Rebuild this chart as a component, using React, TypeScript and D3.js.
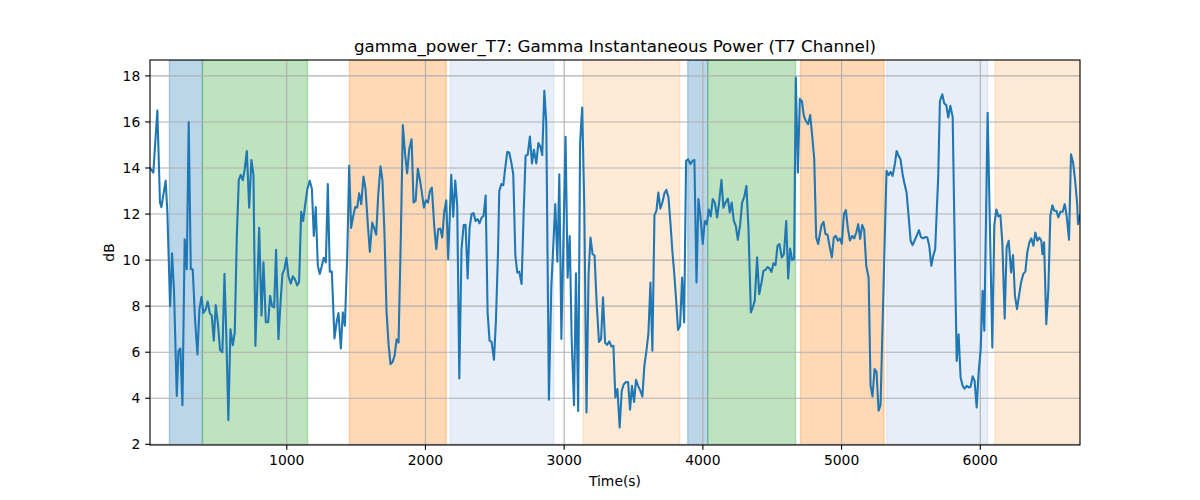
import * as d3 from "d3";

// ── Data ─────────────────────────────────────────────────────────────────────
const TIMES: number[] = [
  14, 38, 67, 86, 96, 127, 139, 159, 173, 187, 207, 219, 233, 248, 264, 279, 293, 308, 322, 339,
  356, 370, 385, 399, 416, 430, 445, 459, 474, 488, 505, 519, 536, 551, 565, 579, 594, 611, 625, 640,
  654, 668, 683, 697, 712, 729, 745, 760, 774, 801, 818, 832, 849, 866, 880, 894, 909, 923, 940, 955,
  969, 983, 998, 1012, 1029, 1044, 1060, 1075, 1089, 1104, 1118, 1135, 1149, 1166, 1181,
  1195, 1209, 1224, 1238, 1253, 1267, 1282, 1296, 1310, 1325, 1344, 1359, 1373, 1390, 1404, 1419, 1436, 1450, 1464, 1479,
  1493, 1508, 1522, 1537, 1553, 1568, 1585, 1599, 1616, 1630, 1645, 1659, 1676, 1690, 1705, 1719, 1734, 1748, 1763, 1777,
  1792, 1806, 1823, 1837, 1852, 1868, 1883, 1900, 1914, 1929, 1945, 1960, 1974, 1989, 2003, 2018, 2032, 2046, 2063, 2078,
  2092, 2107, 2121, 2135, 2150, 2164, 2186, 2200, 2215, 2229, 2244,
  2260, 2275, 2289, 2304, 2318, 2333, 2347, 2361, 2376, 2390, 2405, 2419, 2434, 2448, 2462, 2477, 2494, 2508, 2523, 2532,
  2547, 2561, 2575, 2590, 2604, 2619, 2633, 2648, 2662, 2676, 2693, 2708, 2722, 2737, 2753, 2768, 2782, 2799, 2814, 2828,
  2842, 2857, 2871, 2890, 2907, 2936, 2951, 2965, 2980, 3010, 3025, 3040, 3054, 3071, 3085, 3101, 3115, 3130, 3145, 3161,
  3176, 3190, 3205, 3219, 3234, 3251, 3266, 3280, 3295, 3309, 3326, 3340, 3355, 3369,
  3384, 3400, 3415, 3429, 3444, 3461, 3475, 3489, 3504, 3518, 3533, 3550, 3564, 3578, 3593, 3607, 3622, 3636, 3651, 3665,
  3679, 3694, 3708, 3723, 3737, 3752, 3766, 3780, 3795, 3809, 3821, 3836, 3850, 3865, 3879, 3893, 3910, 3925, 3939, 3954,
  3968, 3982, 3999, 4014, 4028, 4043, 4057, 4071, 4086, 4103, 4117, 4134, 4148, 4163, 4180, 4194, 4208, 4223, 4237, 4252,
  4269, 4283, 4297, 4314, 4329, 4346, 4360, 4374, 4391, 4406, 4423, 4437, 4451, 4466, 4480, 4495, 4509, 4524, 4538, 4552,
  4569, 4584, 4601, 4615, 4629, 4644, 4658, 4670, 4685, 4699, 4714, 4728, 4742, 4759, 4774, 4788, 4803, 4817, 4831, 4855,
  4870, 4884, 4899, 4913, 4930, 4944, 4959, 4973, 4988, 5002, 5017, 5031, 5045, 5060, 5077, 5091, 5106, 5120, 5134, 5149,
  5163, 5178, 5195, 5209, 5223, 5238, 5252, 5267, 5281, 5296, 5310, 5324, 5339, 5353, 5368, 5385, 5397, 5411, 5425, 5440,
  5454, 5469, 5483, 5498, 5512, 5526, 5541, 5558, 5572, 5587, 5603, 5618, 5632, 5647, 5661, 5675,
  5697, 5709, 5726, 5740, 5755, 5769, 5784, 5801, 5815, 5830, 5844, 5858, 5873, 5887, 5902, 5916, 5930, 5945, 5959, 5974,
  5988, 6003, 6017, 6029, 6053, 6087, 6101, 6116, 6130, 6145, 6159, 6176, 6190, 6205, 6222, 6236, 6250, 6265, 6279, 6294,
  6310, 6325, 6339, 6354, 6368, 6383, 6397, 6412, 6426, 6440, 6448, 6460, 6476, 6491, 6505, 6520, 6534, 6549, 6563, 6577,
  6594, 6609, 6623, 6640, 6654, 6669, 6683, 6698, 6705, 6719,
];

const POWER_DB: number[] = [
  14.0, 13.8, 16.5, 12.5, 12.3, 13.45, 12.1, 8.0, 10.3, 8.7, 4.1, 6.06, 6.16, 3.7, 10.9, 9.6, 16.0, 9.6, 9.6, 7.4,
  5.9, 7.85, 8.4, 7.7, 7.87, 8.2, 7.7, 7.6, 6.5, 8.05, 7.15, 6.1, 6.0, 9.4, 6.56, 3.05, 7.0, 6.3, 6.85, 11.05,
  13.47, 13.7, 13.47, 13.95, 14.74, 12.28, 14.35, 13.7, 6.27, 11.4, 7.6, 9.9, 7.3, 7.3, 8.45, 8.0, 7.95, 10.45, 6.56, 8.15,
  9.4, 9.6, 10.1, 9.3, 8.98, 9.3, 9.15, 8.9, 9.05, 12.1, 11.7, 12.5, 13.1, 13.45, 13.1,
  11.05, 12.3, 9.75, 9.4, 9.75, 10.1, 9.9, 13.3, 9.5, 9.5, 6.6, 7.3, 7.7, 6.16, 7.73, 7.15, 10.2, 14.1, 11.4, 11.9,
  12.3, 12.28, 12.9, 12.43, 13.63, 13.08, 11.5, 10.36, 11.63, 11.4, 11.1, 12.8, 14.07, 13.45, 11.05, 7.8, 6.35, 5.48, 5.58, 5.84,
  6.56, 6.42, 11.2, 15.86, 14.67, 13.77, 14.82, 15.25, 12.5, 12.57, 13.98, 13.48, 12.93, 12.28, 12.6, 12.5, 13.0, 13.15, 11.5, 10.48,
  11.34, 11.37, 10.98, 12.07, 12.6, 10.04, 13.7, 11.88, 13.45, 12.35, 4.86,
  10.48, 11.52, 11.53, 9.2, 11.4, 12.0, 12.04, 11.7, 11.78, 11.6, 11.85, 11.92, 12.8, 7.73, 6.5, 6.45, 5.67, 7.36, 10.33, 13.0,
  13.3, 13.25, 14.0, 14.7, 14.67, 14.24, 13.73, 10.2, 9.46, 9.5, 8.96, 12.07, 14.53, 14.57, 15.37, 14.2, 14.79, 14.2, 15.08, 14.93,
  14.56, 17.35, 15.97, 3.94, 8.8, 12.43, 9.93, 13.73, 6.57, 15.35, 9.24, 11.05, 6.57, 3.7, 9.43, 3.45, 15.1, 16.63, 12.35, 3.38,
  9.4, 10.98, 10.26, 10.2, 8.16, 6.45, 6.57, 8.38, 6.42, 6.32, 6.47, 6.25, 6.28, 4.03,
  4.4, 2.73, 4.32, 4.6, 4.7, 4.7, 3.5, 4.54, 3.84, 4.8, 4.54, 4.32, 4.07, 5.4, 6.06, 6.78, 9.03, 6.06, 11.95, 12.14,
  12.93, 12.24, 12.5, 12.9, 13.05, 12.72, 11.63, 10.4, 9.32, 8.1, 6.97, 7.15, 9.24, 7.29, 14.31, 14.38, 14.17, 14.31, 14.35, 9.03,
  12.65, 11.92, 10.7, 11.7, 11.56, 12.2, 11.89, 12.65, 12.5, 11.85, 12.5, 13.48, 12.28, 12.5, 12.67, 12.07, 12.5, 11.7, 11.5, 10.88,
  11.56, 12.5, 12.72, 13.22, 11.34, 7.73, 7.95, 8.23, 10.12, 8.52, 9.03, 9.54, 9.57, 9.7, 9.64, 9.49, 9.86, 9.78, 10.62, 10.7,
  10.12, 10.26, 11.7, 9.2, 10.5, 10.0, 10.04, 17.93, 13.8, 17.0, 16.9, 16.26, 16.05, 15.9, 16.3, 15.4, 14.38, 10.98, 10.7, 11.5,
  11.66, 11.13, 11.1, 10.62, 10.12, 10.98, 11.05, 10.84, 10.94, 10.7, 12.0, 12.17, 11.4, 10.85, 11.05, 10.94, 11.2, 11.56, 10.92, 11.52,
  11.31, 9.75, 9.24, 4.54, 4.08, 5.27, 5.15, 3.46, 3.7, 7.3, 10.6, 13.88, 13.69, 13.83, 13.66, 14.2, 14.74, 14.53, 14.38, 13.73,
  13.3, 12.93, 11.92, 10.84, 10.65, 10.84, 11.05, 11.3, 11.0, 10.95, 11.0, 10.98, 10.62, 9.75, 10.19, 10.48,
  13.66, 16.91, 17.2, 16.8, 16.73, 16.19, 16.7, 16.22, 10.9, 5.62, 6.78, 4.9, 4.54, 4.42, 4.54, 4.47, 4.5, 4.95, 4.76, 3.6,
  5.1, 6.13, 8.67, 6.93, 16.4, 6.2, 11.5, 12.2, 11.9, 11.95, 10.77, 7.46, 10.55, 10.84, 9.46, 10.22, 8.45, 7.87, 8.45, 9.03,
  9.4, 9.5, 10.33, 10.77, 10.94, 10.62, 11.2, 10.84, 10.98, 10.84, 10.26, 10.77, 7.22, 8.74, 11.92, 12.38, 12.14, 12.14, 11.85, 12.1,
  12.1, 12.43, 11.92, 10.88, 14.6, 14.24, 13.51, 12.5, 11.56, 11.95,
];

// shaded phases: start, end, colour
const SPAN_START: number[] = [154, 392, 1452, 2179, 3136, 3891, 4035, 4704, 5325, 6106];
const SPAN_END: number[] = [392, 1150, 2150, 2924, 3833, 4035, 4668, 5307, 6053, 6721];
const SPAN_COLOR: string[] = [
  "#1f77b4", "#2ca02c", "#ff7f0e", "#aec7e8", "#ffbb78",
  "#1f77b4", "#2ca02c", "#ff7f0e", "#aec7e8", "#ffbb78",
];

const X_TICKS: number[] = [1000, 2000, 3000, 4000, 5000, 6000];
const Y_TICKS: number[] = [2, 4, 6, 8, 10, 12, 14, 16, 18];

// ── Layout (matplotlib defaults for a 12x5 in figure, pt → px at 100 dpi) ────
const W = 1200;
const H = 500;
const M = { left: 150, right: 1080, top: 60, bottom: 445 };
const PT = 100 / 72;
const FONT = "'DejaVu Sans', sans-serif";

export default function App() {
  const [t0, t1] = d3.extent(TIMES) as [number, number];
  const [v0, v1] = d3.extent(POWER_DB) as [number, number];
  const pad = (v1 - v0) * 0.05;

  const x = d3.scaleLinear().domain([t0, t1]).range([M.left, M.right]);
  const y = d3.scaleLinear().domain([v0 - pad, v1 + pad]).range([M.bottom, M.top]);

  const pts: [number, number][] = TIMES.map((t, i) => [t, POWER_DB[i]]);
  const line = d3
    .line<[number, number]>()
    .x((d) => x(d[0]))
    .y((d) => y(d[1]));

  const clampX = (v: number) => Math.max(M.left, Math.min(M.right, x(v)));
  const tick = 3.5 * PT;

  return (
    <svg
      width={W}
      height={H}
      style={{ position: "absolute", left: 0, top: 0, background: "#fff" }}
      fontFamily={FONT}
    >
      <defs>
        <clipPath id="plot">
          <rect x={M.left} y={M.top} width={M.right - M.left} height={M.bottom - M.top} />
        </clipPath>
      </defs>

      {/* phase spans */}
      <g clipPath="url(#plot)">
        {SPAN_START.map((s, i) => {
          const x0 = clampX(s);
          const x1 = clampX(SPAN_END[i]);
          return (
            <rect
              key={i}
              x={x0}
              y={M.top}
              width={x1 - x0}
              height={M.bottom - M.top}
              fill={SPAN_COLOR[i]}
              fillOpacity={0.3}
              stroke={SPAN_COLOR[i]}
              strokeOpacity={0.3}
              strokeWidth={PT}
            />
          );
        })}
      </g>

      {/* grid */}
      <g stroke="#b0b0b0" strokeWidth={0.8 * PT}>
        {X_TICKS.map((t) => (
          <line key={t} x1={x(t)} x2={x(t)} y1={M.top} y2={M.bottom} />
        ))}
        {Y_TICKS.map((t) => (
          <line key={t} x1={M.left} x2={M.right} y1={y(t)} y2={y(t)} />
        ))}
      </g>

      {/* signal */}
      <path
        d={line(pts) ?? ""}
        fill="none"
        stroke="#1f77b4"
        strokeWidth={1.5 * PT}
        strokeLinejoin="round"
        strokeLinecap="square"
        clipPath="url(#plot)"
      />

      {/* frame */}
      <rect
        x={M.left}
        y={M.top}
        width={M.right - M.left}
        height={M.bottom - M.top}
        fill="none"
        stroke="#000"
        strokeWidth={0.8 * PT}
      />

      {/* x axis */}
      <g>
        {X_TICKS.map((t) => (
          <g key={t}>
            <line x1={x(t)} x2={x(t)} y1={M.bottom} y2={M.bottom + tick} stroke="#000" strokeWidth={0.8 * PT} />
            <text x={x(t)} y={M.bottom + 2 * tick} dy="0.76em" textAnchor="middle" fontSize={13.9} fill="#000">
              {t}
            </text>
          </g>
        ))}
        <text x={(M.left + M.right) / 2} y={486} textAnchor="middle" fontSize={13.9} fill="#000">
          Time(s)
        </text>
      </g>

      {/* y axis */}
      <g>
        {Y_TICKS.map((t) => (
          <g key={t}>
            <line x1={M.left - tick} x2={M.left} y1={y(t)} y2={y(t)} stroke="#000" strokeWidth={0.8 * PT} />
            <text x={M.left - 2 * tick} y={y(t)} dy="0.36em" textAnchor="end" fontSize={13.9} fill="#000">
              {t}
            </text>
          </g>
        ))}
        <text
          transform={`translate(114,${(M.top + M.bottom) / 2}) rotate(-90)`}
          textAnchor="middle"
          fontSize={13.9}
          fill="#000"
        >
          dB
        </text>
      </g>

      {/* title */}
      <text x={(M.left + M.right) / 2} y={52} textAnchor="middle" fontSize={16.7} fill="#000">
        gamma_power_T7: Gamma Instantaneous Power (T7 Channel)
      </text>
    </svg>
  );
}
